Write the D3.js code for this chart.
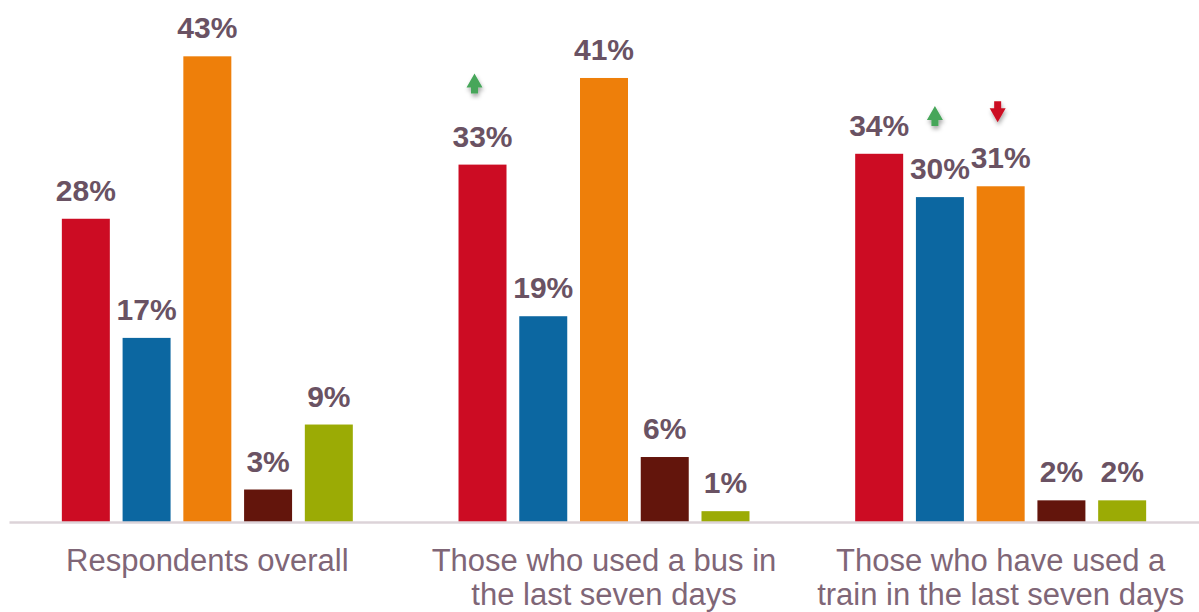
<!DOCTYPE html>
<html>
<head>
<meta charset="utf-8">
<script src="https://cdn.jsdelivr.net/npm/d3@7"></script>
<style>
  body { margin: 0; background: #fff; }
  svg { display: block; }
</style>
</head>
<body>
<div id="chart"></div>
<script>
// categories (each line of the axis label on its own row)
const groups = ["overall", "bus", "train"];
const groupLabels = [
  ["Respondents overall"],
  ["Those who used a bus in", "the last seven days"],
  ["Those who have used a", "train in the last seven days"]
];
const series = ["s1", "s2", "s3", "s4", "s5"];
const seriesColors = ["#cc0c23", "#0c67a1", "#ee7f0a", "#63150c", "#9bab05"];

// values in % per group, one per series
const overallValues = [28, 17, 43, 3, 9];
const busValues = [33, 19, 41, 6, 1];
const trainValues = [34, 30, 31, 2, 2];

// significance arrows: group, series, direction
const arrowGroups = ["bus", "train", "train"];
const arrowSeries = ["s1", "s2", "s3"];
const arrowDirs = ["up", "up", "down"];
const arrowShift = [-8, -5, -3];

const width = 1199, height = 612;
const baseY = 522;

const rows = [overallValues, busValues, trainValues];
const data = groups.map((g, i) => ({
  group: g,
  values: series.map((s, j) => ({ group: g, series: s, value: rows[i][j] }))
}));

const svg = d3.select("#chart").append("svg")
  .attr("width", width)
  .attr("height", height);

const defs = svg.append("defs");
defs.append("filter")
  .attr("id", "shadow")
  .attr("x", "-50%").attr("y", "-50%")
  .attr("width", "200%").attr("height", "200%")
  .append("feDropShadow")
  .attr("dx", 1).attr("dy", 3)
  .attr("stdDeviation", 2)
  .attr("flood-color", "#000")
  .attr("flood-opacity", 0.35);

const x0 = d3.scaleBand()
  .domain(groups)
  .range([9, width])
  .padding(0);

const x1 = d3.scaleBand()
  .domain(series)
  .range([0, x0.bandwidth()])
  .paddingInner(0.21)
  .paddingOuter(0.87);

const y = d3.scaleLinear()
  .domain([0, 48.2])
  .range([baseY, 0]);

const color = d3.scaleOrdinal().domain(series).range(seriesColors);

// bars
const groupG = svg.append("g")
  .selectAll("g")
  .data(data)
  .join("g")
  .attr("transform", d => `translate(${x0(d.group)},0)`);

groupG.selectAll("rect")
  .data(d => d.values)
  .join("rect")
  .attr("x", d => x1(d.series))
  .attr("y", d => y(d.value))
  .attr("width", x1.bandwidth())
  .attr("height", d => y(0) - y(d.value))
  .attr("fill", d => color(d.series));

// value labels
groupG.selectAll("text")
  .data(d => d.values)
  .join("text")
  .attr("x", d => x1(d.series) + x1.bandwidth() / 2)
  .attr("y", d => y(d.value) - 18)
  .attr("text-anchor", "middle")
  .style("font", "bold 30px Arial, 'Liberation Sans', sans-serif")
  .attr("fill", "#6a5263")
  .text(d => d.value + "%");

// x axis
const axis = svg.append("g")
  .attr("transform", `translate(0,${baseY})`)
  .call(d3.axisBottom(x0).tickSize(0).tickSizeOuter(0).tickFormat(""));

axis.select(".domain")
  .attr("stroke", "#dcd3d8")
  .attr("stroke-width", 2.5);

axis.selectAll(".tick text").remove();
axis.selectAll(".tick")
  .append("text")
  .attr("fill", "#7f6677")
  .attr("text-anchor", "middle")
  .style("font", "31px Arial, 'Liberation Sans', sans-serif")
  .selectAll("tspan")
  .data(d => groupLabels[groups.indexOf(d)])
  .join("tspan")
  .attr("x", 0)
  .attr("y", (d, i) => 49 + i * 34)
  .text(d => d);

// arrows
const arrowData = arrowGroups.map((g, i) => {
  const v = rows[groups.indexOf(g)][series.indexOf(arrowSeries[i])];
  return { group: g, series: arrowSeries[i], dir: arrowDirs[i], value: v, shift: arrowShift[i] };
});

const upArrow = "M0,-20 L8,-6 L3.5,-6 L3.5,0 L-3.5,0 L-3.5,-6 L-8,-6 Z";
const downArrow = "M0,0 L8,-14 L3.5,-14 L3.5,-21 L-3.5,-21 L-3.5,-14 L-8,-14 Z";

svg.append("g")
  .selectAll("path")
  .data(arrowData)
  .join("path")
  .attr("transform", d => {
    const cx = x0(d.group) + x1(d.series) + x1.bandwidth() / 2 + d.shift;
    const by = d.dir === "up" ? y(d.value) - 71 : y(d.value) - 64;
    return `translate(${cx},${by})`;
  })
  .attr("d", d => d.dir === "up" ? upArrow : downArrow)
  .attr("fill", d => d.dir === "up" ? "#46a65a" : "#cc0c23")
  .attr("filter", "url(#shadow)");
</script>
</body>
</html>
